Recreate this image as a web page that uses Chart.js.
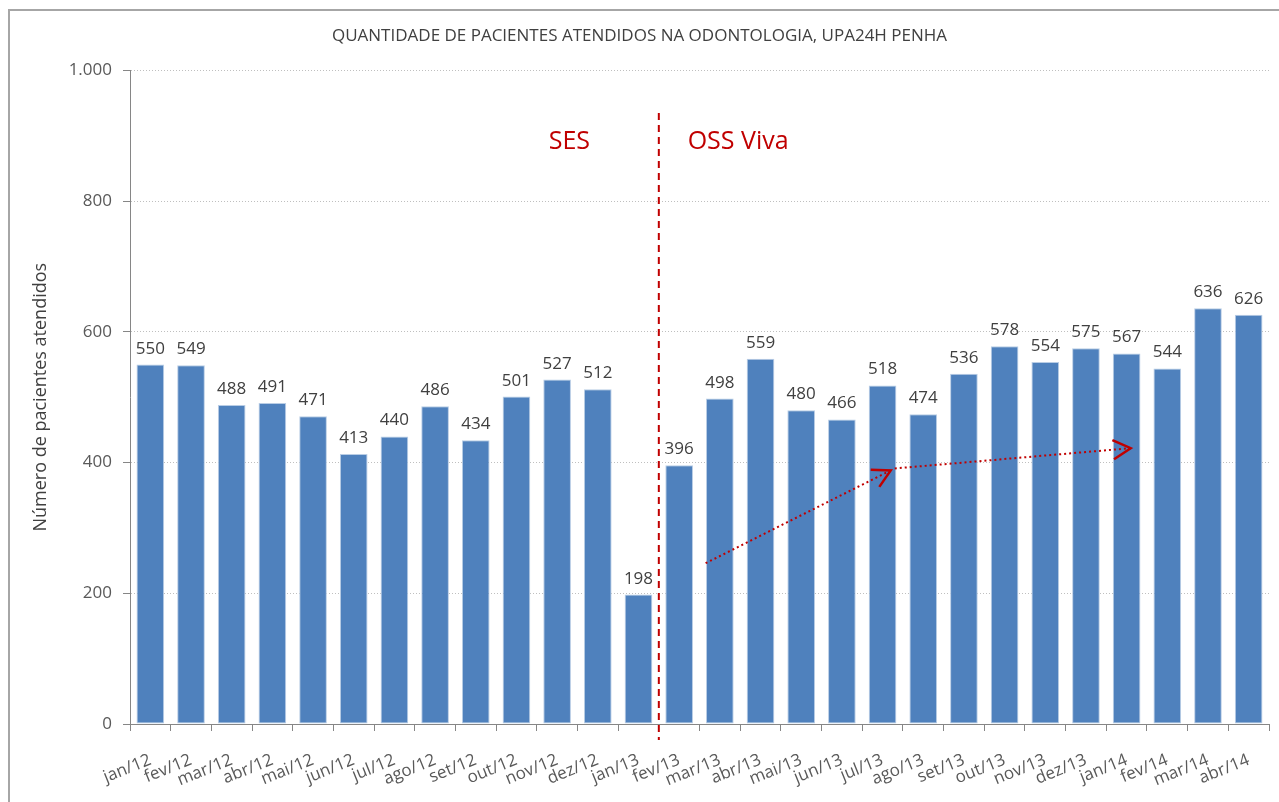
<!DOCTYPE html>
<html>
<head>
<meta charset="utf-8">
<script src="https://cdn.jsdelivr.net/npm/chart.js@4/dist/chart.umd.min.js"></script>
<style>
  html, body { margin: 0; padding: 0; background: #fff; }
  #wrap { position: relative; width: 1279px; height: 802px; overflow: hidden; }
  #frame { position: absolute; left: 8px; top: 9px; width: 1300px; height: 820px;
           border-left: 2px solid #a6a6a6; border-top: 2px solid #a6a6a6; }
  canvas { position: absolute; left: 0; top: 0; }
</style>
</head>
<body>
<div id="wrap">
  <div id="frame"></div>
  <canvas id="odontoChart" width="1279" height="802"></canvas>
</div>
<script>
/* -------------------------------------------------------
   Data
------------------------------------------------------- */
const months = [
  'jan/12','fev/12','mar/12','abr/12','mai/12','jun/12','jul/12','ago/12','set/12','out/12','nov/12','dez/12',
  'jan/13','fev/13','mar/13','abr/13','mai/13','jun/13','jul/13','ago/13','set/13','out/13','nov/13','dez/13',
  'jan/14','fev/14','mar/14','abr/14'
];
const patients = [
  550, 549, 488, 491, 471, 413, 440, 486, 434, 501, 527, 512,
  198, 396, 498, 559, 480, 466, 518, 474, 536, 578, 554, 575,
  567, 544, 636, 626
];
const yTicks = [0, 200, 400, 600, 800, 1000];

// annotations (category index / value coordinates)
const dividerAfter = 12;          // line between jan/13 and fev/13
const dividerTop = 935;
const periodLabels = [
  { text: 'SES',      x: 10.3,  y: 890 },
  { text: 'OSS Viva', x: 14.45, y: 890 }
];
const trendArrows = [
  { from: [13.65, 246], to: [18.2, 388] },
  { from: [18.3, 391],  to: [24.1, 422] }
];

const FONT = "'Open Sans', 'DejaVu Sans', sans-serif";
const DARK_RED = '#c00000';

// 1000 -> "1.000"
const fmtThousands = v => String(v).replace(/\B(?=(\d{3})+(?!\d))/g, '.');

/* -------------------------------------------------------
   Plugins: value labels + annotations
------------------------------------------------------- */
const valueLabels = {
  id: 'valueLabels',
  afterDatasetsDraw(chart) {
    const { ctx } = chart;
    const meta = chart.getDatasetMeta(0);
    ctx.save();
    ctx.font = '17px ' + FONT;
    ctx.fillStyle = '#404040';
    ctx.textAlign = 'center';
    ctx.textBaseline = 'alphabetic';
    meta.data.forEach((bar, i) => {
      ctx.fillText(patients[i], bar.x, bar.y - 11);
    });
    ctx.restore();
  }
};

function drawArrowHead(ctx, x1, y1, x2, y2, size) {
  const ang = Math.atan2(y2 - y1, x2 - x1);
  ctx.beginPath();
  ctx.moveTo(x2 - size * Math.cos(ang - 0.5), y2 - size * Math.sin(ang - 0.5));
  ctx.lineTo(x2, y2);
  ctx.lineTo(x2 - size * Math.cos(ang + 0.5), y2 - size * Math.sin(ang + 0.5));
  ctx.stroke();
}

const annotations = {
  id: 'annotations',
  afterDraw(chart) {
    const { ctx, scales: { x, y }, chartArea } = chart;
    ctx.save();

    // period divider
    const dx = (x.getPixelForValue(dividerAfter) + x.getPixelForValue(dividerAfter + 1)) / 2;
    ctx.strokeStyle = DARK_RED;
    ctx.lineWidth = 2;
    ctx.setLineDash([7, 5]);
    ctx.beginPath();
    ctx.moveTo(dx, y.getPixelForValue(dividerTop));
    ctx.lineTo(dx, chartArea.bottom + 16);
    ctx.stroke();

    // period names
    ctx.setLineDash([]);
    ctx.fillStyle = DARK_RED;
    ctx.font = '25px ' + FONT;
    ctx.textAlign = 'center';
    ctx.textBaseline = 'middle';
    periodLabels.forEach(p => {
      ctx.fillText(p.text, x.getPixelForValue(p.x), y.getPixelForValue(p.y));
    });

    // dotted trend arrows
    trendArrows.forEach(a => {
      const x1 = x.getPixelForValue(a.from[0]), y1 = y.getPixelForValue(a.from[1]);
      const x2 = x.getPixelForValue(a.to[0]),   y2 = y.getPixelForValue(a.to[1]);
      ctx.lineWidth = 2;
      ctx.setLineDash([2, 3]);
      ctx.beginPath();
      ctx.moveTo(x1, y1);
      ctx.lineTo(x2, y2);
      ctx.stroke();
      ctx.setLineDash([]);
      ctx.lineWidth = 2.5;
      drawArrowHead(ctx, x1, y1, x2, y2, 20);
    });
    ctx.restore();
  }
};

/* -------------------------------------------------------
   Chart
------------------------------------------------------- */
new Chart(document.getElementById('odontoChart'), {
  type: 'bar',
  data: {
    labels: months,
    datasets: [{
      label: 'Pacientes atendidos',
      data: patients,
      backgroundColor: '#4f81bd',
      borderColor: '#b9cde5',
      borderWidth: 1,
      borderSkipped: false,
      categoryPercentage: 1,
      barPercentage: 0.68,
    }]
  },
  options: {
    responsive: false,
    animation: false,
    layout: { padding: { left: 10, right: 10, top: 0, bottom: 0 } },
    plugins: {
      legend: { display: false },
      tooltip: { enabled: false },
      title: {
        display: true,
        text: 'QUANTIDADE DE PACIENTES ATENDIDOS NA ODONTOLOGIA, UPA24H PENHA',
        color: '#404040',
        font: { family: FONT, size: 17, weight: 'normal' },
        padding: { top: 26, bottom: 24 }
      }
    },
    scales: {
      x: {
        grid: {
          offset: true,
          drawOnChartArea: false,
          tickLength: 7,
          tickColor: '#868686'
        },
        border: { color: '#868686', width: 1 },
        ticks: {
          color: '#595959',
          font: { family: FONT, size: 17 },
          minRotation: 22,
          maxRotation: 22,
          autoSkip: false,
          padding: 19
        },
        afterFit: s => { s.height = 78; }
      },
      y: {
        min: 0,
        max: 1000,
        afterBuildTicks: s => { s.ticks = yTicks.map(v => ({ value: v })); },
        grid: {
          color: '#bfbfbf',
          tickLength: 7,
          tickColor: '#868686',
          tickBorderDash: []
        },
        border: { color: '#868686', width: 1, dash: [1, 2] },
        ticks: {
          color: '#595959',
          font: { family: FONT, size: 17 },
          padding: 11,
          callback: v => fmtThousands(v)
        },
        title: {
          display: true,
          text: 'Número de pacientes atendidos',
          color: '#404040',
          font: { family: FONT, size: 18 },
          padding: { top: 20, bottom: 0 }
        },
        afterFit: s => { s.width = 120; }
      }
    }
  },
  plugins: [valueLabels, annotations]
});
</script>
</body>
</html>
